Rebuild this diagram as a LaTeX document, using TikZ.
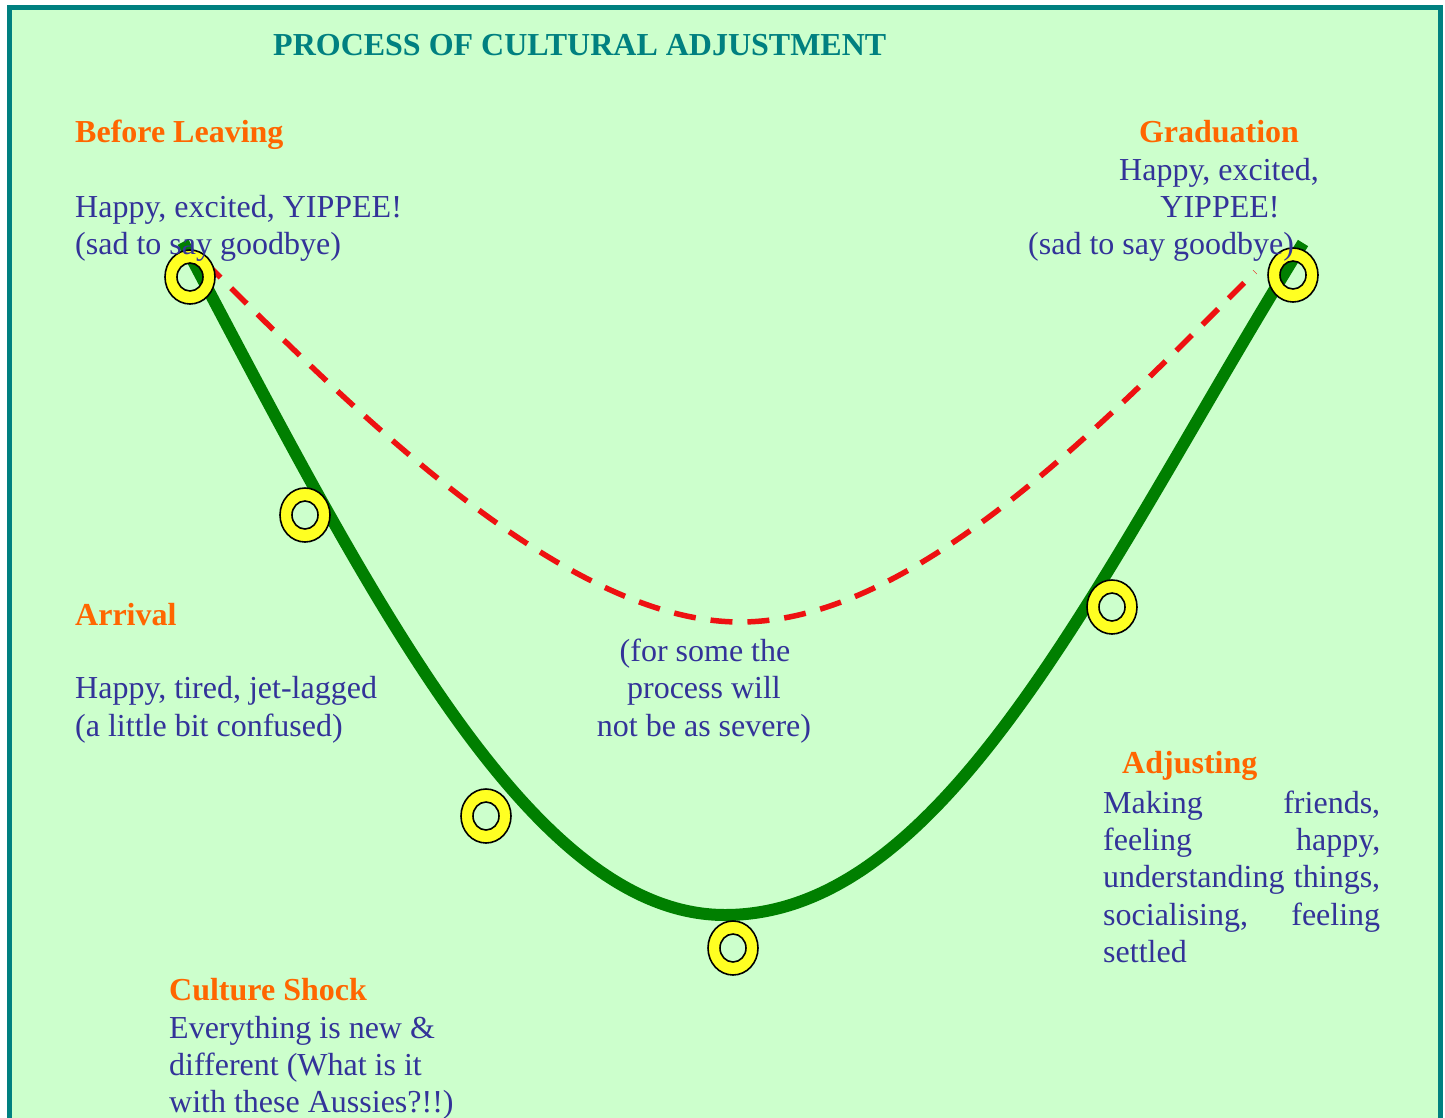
\documentclass[tikz,border=0pt]{standalone}
\usepackage{fontspec}
\setmainfont{Liberation Serif}
\definecolor{bgg}{HTML}{CCFFCC}
\definecolor{tealb}{HTML}{008080}
\definecolor{orng}{HTML}{FF6600}
\definecolor{txtb}{HTML}{333399}
\definecolor{crvg}{HTML}{007F00}
\definecolor{dshr}{HTML}{EE1111}
\definecolor{ringy}{HTML}{FFFF22}
\begin{document}
\begin{tikzpicture}[x=1pt,y=-1pt,
  txt/.style={inner sep=0pt, text=txtb, font=\fontsize{32}{37}\selectfont, anchor=base west},
  hd/.style={inner sep=0pt, text=orng, font=\fontsize{32}{37}\selectfont\bfseries, anchor=base west},
  ring/.style={fill=ringy, draw=black, line width=1.6pt, even odd rule},
  maincurve/.style={draw=crvg, line width=12pt},
  altcurve/.style={draw=dshr, line width=5.5pt, dash pattern=on 22pt off 15pt}]
\useasboundingbox (0,0) rectangle (1445,1117);
% background and border
\fill[bgg] (9,7) rectangle (1440,1125);
\draw[tealb, line width=5pt] (9,1125) -- (9,7) -- (1440,7) -- (1440,1125);

% curve end points
\coordinate (gs) at (183,242);
\coordinate (gm) at (725,915);
\coordinate (ge) at (1303,243);
\coordinate (rs) at (205,262);
\coordinate (rm) at (740,622);
\coordinate (re) at (1255,272);

% curves
\draw[altcurve] (rs) .. controls (355,412) and (565,622) .. (rm)
                     .. controls (915,622) and (1105,422) .. (re);
\draw[maincurve] (gs) .. controls (370,596) and (530,915) .. (gm)
                      .. controls (950,915) and (1103,566) .. (ge);

% rings
\coordinate (r1) at (190,277);
\coordinate (r2) at (305,515);
\coordinate (r3) at (486,816);
\coordinate (r4) at (733,948);
\coordinate (r5) at (1112,607);
\coordinate (r6) at (1293,275);
\foreach \r in {r1,r2,r3,r4,r5,r6}{
  \path[ring] (\r) ellipse [x radius=25, y radius=27] (\r) ellipse [x radius=13, y radius=14];
}

% title
\node[inner sep=0pt, text=tealb, font=\fontsize{32}{37}\selectfont\bfseries, anchor=base west] (title) at (273,55) {PROCESS OF CULTURAL ADJUSTMENT};

% before leaving
\node[hd] (bl1) at (75,142) {Before Leaving};
\node[txt] (bl2) at (75,217) {Happy, excited, YIPPEE!};
\node[txt] (bl3) at (75,254) {(sad to say goodbye)};

% graduation
\node[hd, anchor=base] (gr1) at (1219,142) {Graduation};
\node[txt, anchor=base] (gr2) at (1219,180) {Happy, excited,};
\node[txt, anchor=base] (gr3) at (1220,217) {YIPPEE!};
\node[txt] (gr4) at (1028,254) {(sad to say goodbye)};

% arrival
\node[hd] (ar1) at (75,625) {Arrival};
\node[txt] (ar2) at (75,698) {Happy, tired, jet-lagged};
\node[txt] (ar3) at (75,736) {(a little bit confused)};

% middle note
\node[txt, anchor=base] (md1) at (705,661) {(for some the};
\node[txt, anchor=base] (md2) at (704,698) {process will};
\node[txt, anchor=base] (md3) at (704,736) {not be as severe)};

% adjusting
\node[hd] (ad0) at (1122,773) {Adjusting};
\node[txt] (ad1) at (1103,813) {\hbox to 277pt{Making\hfill friends,}};
\node[txt] (ad2) at (1103,850) {\hbox to 277pt{feeling\hfill happy,}};
\node[txt] (ad3) at (1103,887) {\hbox to 277pt{understanding\hfill things,}};
\node[txt] (ad4) at (1103,925) {\hbox to 277pt{socialising,\hfill feeling}};
\node[txt] (ad5) at (1103,962) {settled};

% culture shock
\node[hd] (cs0) at (169,1000) {Culture Shock};
\node[txt] (cs1) at (169,1038) {Everything is new \&};
\node[txt] (cs2) at (169,1075) {different (What is it};
\node[txt] (cs3) at (169,1112) {with these Aussies?!!)};
\end{tikzpicture}
\end{document}
